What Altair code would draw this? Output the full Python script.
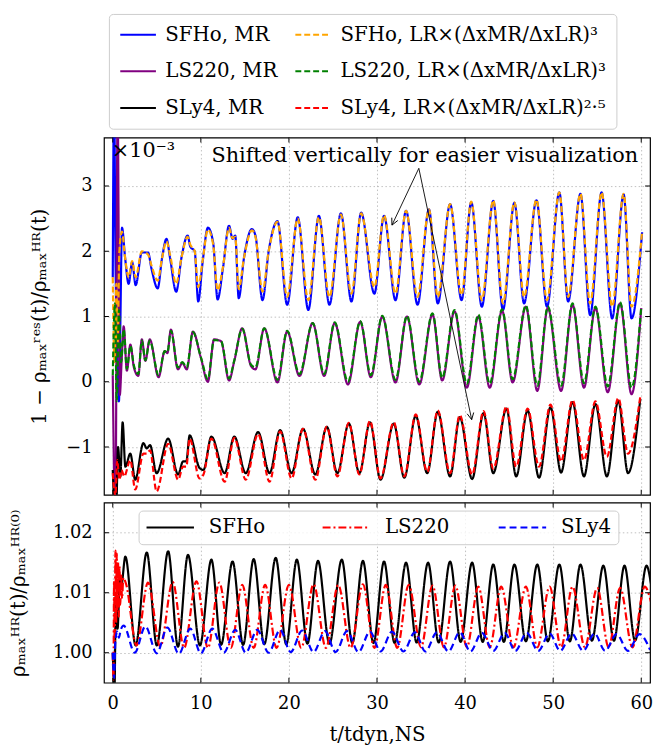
import altair as alt
import pandas as pd

FONT = "DejaVu Serif"

X_DOMAIN = [-1, 61]
X_TICKS = [0, 10, 20, 30, 40, 50, 60]
TOP_Y_DOMAIN = [-1.73, 3.74]
TOP_Y_TICKS = [-1, 0, 1, 2, 3]
BOT_Y_DOMAIN = [0.995, 1.025]
BOT_Y_TICKS = [1.00, 1.01, 1.02]

# legend order is column-major (3 rows x 2 columns)
TOP_NAMES = ["SFHo, MR", "LS220, MR", "SLy4, MR",
             "SFHo, LR×(ΔxMR/ΔxLR)³", "LS220, LR×(ΔxMR/ΔxLR)³", "SLy4, LR×(ΔxMR/ΔxLR)²·⁵"]
TOP_COLORS = ["#0000ff", "#800080", "#000000", "#ffa500", "#008000", "#ff0000"]
TOP_DASHES = [[1, 0], [1, 0], [1, 0], [6, 3], [6, 3], [6, 3]]

BOT_NAMES = ["SFHo", "LS220", "SLy4"]
BOT_COLORS = ["#000000", "#ff0000", "#0000ff"]
BOT_DASHES = [[1, 0], [8, 3, 2, 3], [7, 4]]

TOP_YTITLE = "1 − ρₘₐₓʳᵉˢ(t)/ρₘₐₓᴴᴿ(t)"
BOT_YTITLE = "ρₘₐₓᴴᴿ(t)/ρₘₐₓᴴᴿ⁽⁰⁾"
XTITLE = "t/tdyn,NS"
SCALE_NOTE = "×10⁻³"
SHIFT_NOTE = "Shifted vertically for easier visualization"

# arrows (data coordinates of the top panel): common start, two ends, head angles
ARROW_START = (34.75, 3.27)
ARROW_ENDS = [(31.7, 2.40), (40.75, -0.58)]
ARROW_ANGLES = [205, 169]

# ---------------- top panel: (t, 1e3 * (1 - rho_res/rho_HR) + shift) ----------------
SFHO_MR = [(0, 1.6), (0.15, 4.5), (0.3, 2.0), (0.5, 0.5), (0.7, -0.3), (0.85, 0.8),
           (1.05, 2.36), (1.4, 1.9), (1.8, 1.5), (2.2, 1.83), (2.6, 1.48), (3.3, 1.98),
           (4.0, 1.98), (4.4, 1.73), (5.1, 1.43), (5.6, 1.9), (6.1, 2.19), (6.5, 1.9),
           (7.2, 1.38), (7.8, 1.9), (8.5, 2.24), (8.8, 2.07), (9.3, 2.0), (9.7, 1.23),
           (10.2, 1.83), (10.8, 2.36), (11.4, 2.13), (11.9, 1.26), (12.5, 1.73), (13.2, 2.39),
           (13.6, 2.19), (13.9, 2.24), (14.3, 1.28), (14.9, 1.9), (15.8, 2.34), (16.2, 2.24),
           (17.0, 1.25), (17.7, 2.0), (18.7, 2.46), (19.8, 1.18), (21.0, 2.52), (22.2, 1.1),
           (23.4, 2.54), (24.6, 1.18), (25.9, 2.58), (27.1, 1.23), (28.2, 2.59), (29.7, 1.35),
           (30.8, 2.54), (32.1, 1.25), (33.3, 2.62), (34.6, 1.18), (35.9, 2.64), (36.9, 1.2),
           (38.3, 2.72), (39.6, 1.25), (40.7, 2.75), (41.9, 1.15), (43.2, 2.77), (44.3, 1.1),
           (45.6, 2.74), (46.7, 1.2), (48.1, 2.78), (49.3, 1.15), (50.7, 2.9), (51.7, 1.23),
           (53.1, 2.88), (54.2, 1.02), (55.5, 2.9), (56.7, 0.97), (58.0, 2.87), (58.9, 0.97),
           (60.1, 2.29)]

SFHO_LR = [(0, 1.6), (0.2, 0.3), (0.4, 1.5), (0.55, 0.6), (0.75, 2.0), (1.05, 2.3),
           (1.4, 1.9), (1.8, 1.6), (2.2, 1.85), (2.6, 1.6), (3.3, 2.0), (4.0, 1.95),
           (4.4, 1.78), (5.1, 1.55), (5.6, 1.9), (6.1, 2.15), (6.5, 1.95), (7.2, 1.5),
           (7.8, 1.9), (8.5, 2.22), (8.8, 2.1), (9.3, 2.0), (9.7, 1.45), (10.2, 1.85),
           (10.8, 2.33), (11.4, 2.1), (11.9, 1.4), (12.5, 1.75), (13.2, 2.36), (13.6, 2.2),
           (13.9, 2.22), (14.3, 1.42), (14.9, 1.9), (15.8, 2.32), (16.2, 2.22), (17.0, 1.38),
           (17.7, 2.0), (18.7, 2.45), (19.8, 1.3), (21.0, 2.5), (22.2, 1.25), (23.4, 2.52),
           (24.6, 1.3), (25.9, 2.56), (27.1, 1.35), (28.2, 2.58), (29.7, 1.45), (30.8, 2.55),
           (32.1, 1.35), (33.3, 2.62), (34.6, 1.3), (35.9, 2.64), (36.9, 1.3), (38.3, 2.72),
           (39.6, 1.33), (40.7, 2.76), (41.9, 1.25), (43.2, 2.78), (44.3, 1.2), (45.6, 2.75),
           (46.7, 1.3), (48.1, 2.79), (49.3, 1.25), (50.7, 2.9), (51.7, 1.3), (53.1, 2.88),
           (54.2, 1.2), (55.5, 2.9), (56.7, 1.15), (58.0, 2.88), (58.9, 1.15), (60.1, 2.3)]

LS220_MR = [(0, 0.1), (0.3, -2.2), (0.55, 4.2), (0.8, -0.2), (1.0, 0.3), (1.24, 0.85),
            (1.6, 0.17), (2.0, 0.57), (2.4, 0.22), (2.9, 0.09), (3.3, 0.65), (3.7, 0.32),
            (4.2, 0.65), (5.2, 0.07), (5.9, 0.47), (6.2, 0.44), (6.6, 0.8), (7.4, 0.19),
            (7.9, 0.29), (8.4, 0.19), (9.1, 0.77), (10.0, 0.37), (10.8, 0.0), (11.5, 0.65),
            (12.3, 0.62), (13.2, 0.02), (13.8, 0.32), (14.7, 0.82), (15.7, 0.24), (16.2, 0.19),
            (17.2, 0.82), (18.7, -0.01), (19.8, 0.77), (21.2, 0.09), (22.7, 0.9), (24.0, 0.09),
            (25.2, 0.9), (26.7, -0.04), (28.1, 0.92), (29.3, 0.07), (30.6, 1.0), (32.1, -0.01),
            (33.4, 1.0), (34.8, -0.04), (36.3, 1.03), (37.4, 0.02), (38.8, 1.08), (40.2, -0.09),
            (41.5, 1.0), (42.8, -0.09), (44.2, 1.09), (45.4, -0.01), (46.9, 1.15), (48.2, -0.14),
            (49.4, 1.13), (50.9, -0.14), (52.2, 1.18), (53.5, -0.09), (54.8, 1.13), (56.2, -0.16),
            (57.6, 1.2), (58.9, -0.19), (60.0, 1.13)]

LS220_LR = [(0, 0.1), (0.25, 1.2), (0.45, -0.3), (0.7, 1.1), (0.95, 0.3), (1.24, 0.8),
            (1.6, 0.2), (2.0, 0.55), (2.4, 0.25), (2.9, 0.12), (3.3, 0.63), (3.7, 0.33),
            (4.2, 0.63), (5.2, 0.1), (5.9, 0.47), (6.2, 0.45), (6.6, 0.78), (7.4, 0.22),
            (7.9, 0.3), (8.4, 0.22), (9.1, 0.76), (10.0, 0.38), (10.8, 0.04), (11.5, 0.64),
            (12.3, 0.62), (13.2, 0.05), (13.8, 0.33), (14.7, 0.81), (15.7, 0.26), (16.2, 0.22),
            (17.2, 0.82), (18.7, 0.03), (19.8, 0.78), (21.2, 0.12), (22.7, 0.9), (24.0, 0.12),
            (25.2, 0.91), (26.7, 0.0), (28.1, 0.93), (29.3, 0.1), (30.6, 1.01), (32.1, 0.03),
            (33.4, 1.01), (34.8, 0.0), (36.3, 1.05), (37.4, 0.06), (38.8, 1.1), (40.2, -0.03),
            (41.5, 1.03), (42.8, -0.03), (44.2, 1.11), (45.4, 0.04), (46.9, 1.17), (48.2, -0.06),
            (49.4, 1.15), (50.9, -0.06), (52.2, 1.2), (53.5, -0.02), (54.8, 1.15), (56.2, -0.07),
            (57.6, 1.22), (58.9, -0.09), (60.0, 1.15)]

SLY4_MR = [(0, -1.35), (0.35, -2.2), (0.6, -1.0), (0.86, -1.45), (1.12, -0.62), (1.43, -1.3),
           (1.99, -1.1), (2.55, -1.5), (3.48, -0.94), (3.86, -1.02), (4.23, -0.97), (4.98, -1.4),
           (6.29, -0.87), (7.42, -1.42), (7.98, -1.22), (8.35, -1.22), (8.73, -0.82), (9.85, -1.32),
           (10.3, -1.35), (11.2, -0.84), (12.7, -1.4), (13.8, -0.84), (15.1, -1.4), (16.5, -0.77),
           (17.8, -1.4), (19.0, -0.74), (20.3, -1.4), (21.6, -0.72), (23.0, -1.42), (24.3, -0.69),
           (25.5, -1.4), (26.8, -0.64), (28.0, -1.4), (29.2, -0.62), (30.4, -1.5), (31.9, -0.64),
           (33.1, -1.47), (34.4, -0.52), (35.7, -1.4), (36.9, -0.46), (38.3, -1.45), (39.4, -0.54),
           (40.8, -1.49), (42.1, -0.48), (43.2, -1.4), (44.7, -0.41), (45.8, -1.45), (47.1, -0.44),
           (48.4, -1.47), (49.7, -0.39), (50.9, -1.39), (52.2, -0.31), (53.5, -1.45), (54.8, -0.34),
           (56.1, -1.45), (57.4, -0.29), (58.5, -1.4), (59.9, -0.26)]

SLY4_LR = [(0, -1.4), (0.3, -1.75), (0.5, -1.2), (0.75, -1.5), (1.0, -1.35), (1.3, -1.45),
           (1.99, -1.2), (2.55, -1.65), (3.48, -1.1), (3.86, -1.1), (4.23, -1.05), (4.98, -1.68),
           (6.29, -0.95), (7.42, -1.5), (7.98, -1.3), (8.35, -1.3), (8.73, -0.87), (9.85, -1.48),
           (10.3, -1.42), (11.2, -0.87), (12.7, -1.53), (13.8, -0.86), (15.1, -1.5), (16.5, -0.8),
           (17.8, -1.53), (19.0, -0.76), (20.3, -1.48), (21.6, -0.72), (23.0, -1.5), (24.3, -0.69),
           (25.5, -1.45), (26.8, -0.63), (28.0, -1.42), (29.2, -0.6), (30.4, -1.48), (31.9, -0.62),
           (33.1, -1.45), (34.4, -0.5), (35.7, -1.38), (36.9, -0.44), (38.3, -1.4), (39.4, -0.51),
           (40.8, -1.42), (42.1, -0.45), (43.2, -1.33), (44.7, -0.38), (45.8, -1.3), (47.1, -0.41),
           (48.4, -1.3), (49.7, -0.35), (50.9, -1.22), (52.2, -0.28), (53.5, -1.2), (54.8, -0.3),
           (56.1, -1.15), (57.4, -0.25), (58.5, -1.1), (59.9, -0.22)]

# ---------------- bottom panel: (t, rho_max^HR(t)/rho_max^HR(0)) ----------------
SFHO_HR = [(0, 1.000), (0.2, 0.994), (0.35, 1.0095), (0.55, 1.004), (0.8, 1.0125), (0.95, 1.011),
           (1.43, 1.0160), (2.6, 1.0012), (3.86, 1.0167), (5.0, 1.0012), (6.29, 1.0169), (7.4, 1.0010),
           (8.54, 1.0163), (9.9, 1.0012), (11.2, 1.0155), (12.3, 1.0013), (13.6, 1.0152), (14.8, 1.0013),
           (16.0, 1.0156), (17.2, 1.0014), (18.5, 1.0158), (19.7, 1.0014), (20.9, 1.0155), (22.1, 1.0015),
           (23.3, 1.0153), (24.6, 1.0015), (26.0, 1.0155), (27.2, 1.0016), (28.4, 1.0153), (29.6, 1.0016),
           (30.8, 1.0152), (32.0, 1.0016), (33.3, 1.0150), (34.5, 1.0017), (35.8, 1.0150), (37.0, 1.0017),
           (38.3, 1.0152), (39.5, 1.0018), (40.8, 1.0150), (42.0, 1.0018), (43.2, 1.0147), (44.4, 1.0018),
           (45.6, 1.0147), (46.9, 1.0019), (48.2, 1.0147), (49.4, 1.0019), (50.7, 1.0147), (51.9, 1.0019),
           (53.1, 1.0147), (54.4, 1.0020), (55.7, 1.0145), (56.9, 1.0020), (58.1, 1.0145), (59.3, 1.0020),
           (60.6, 1.0145), (61.1, 1.0115)]

LS220_HR = [(0, 1.000), (0.08, 0.9955), (0.15, 1.012), (0.22, 1.002), (0.3, 1.017), (0.38, 1.005),
            (0.45, 1.0165), (0.52, 1.007), (0.6, 1.015), (0.68, 1.006), (0.76, 1.0145), (0.85, 1.008),
            (0.95, 1.013), (1.05, 1.009), (1.2, 1.0125), (1.5, 1.0115), (2.7, 1.0012), (4.0, 1.0117),
            (5.4, 1.0010), (6.8, 1.0118), (8.1, 1.0008), (9.5, 1.0119), (10.8, 1.0008), (12.1, 1.0117),
            (13.4, 1.0008), (14.7, 1.0113), (16.0, 1.0008), (17.3, 1.0113), (18.6, 1.0008), (20.0, 1.0113),
            (21.4, 1.0008), (22.8, 1.0114), (24.2, 1.0008), (25.6, 1.0113), (27.0, 1.0008), (28.4, 1.0114),
            (29.7, 1.0008), (31.0, 1.0113), (32.3, 1.0008), (33.6, 1.0113), (35.0, 1.0009), (36.3, 1.0112),
            (37.6, 1.0009), (38.9, 1.0112), (40.2, 1.0009), (41.5, 1.0110), (42.8, 1.0009), (44.1, 1.0110),
            (45.5, 1.0009), (46.9, 1.0110), (48.2, 1.0009), (49.6, 1.0110), (50.9, 1.0009), (52.2, 1.0110),
            (53.6, 1.0009), (55.0, 1.0108), (56.3, 1.0009), (57.6, 1.0108), (59.0, 1.0009), (60.4, 1.0110),
            (61.1, 1.0085)]

SLY4_HR = [(0, 1.000), (0.15, 0.9958), (0.3, 1.002), (0.5, 1.0035), (0.7, 1.0025), (0.9, 1.0038),
           (1.24, 1.0045), (2.5, 1.0000), (3.7, 1.0044), (5.0, 0.9999), (6.2, 1.0042), (7.5, 0.9998),
           (8.8, 1.0040), (10.0, 0.9999), (11.3, 1.0040), (12.6, 1.0000), (13.9, 1.0038), (15.1, 1.0000),
           (16.4, 1.0038), (17.7, 1.0000), (19.0, 1.0038), (20.2, 1.0001), (21.5, 1.0037), (22.8, 1.0001),
           (24.1, 1.0036), (25.3, 1.0001), (26.6, 1.0036), (27.9, 1.0001), (29.2, 1.0035), (30.4, 1.0002),
           (31.7, 1.0035), (33.0, 1.0002), (34.3, 1.0034), (35.5, 1.0002), (36.8, 1.0034), (38.1, 1.0002),
           (39.4, 1.0034), (40.6, 1.0002), (41.9, 1.0033), (43.2, 1.0003), (44.5, 1.0033), (45.7, 1.0003),
           (47.0, 1.0033), (48.3, 1.0003), (49.6, 1.0032), (50.8, 1.0003), (52.1, 1.0032), (53.4, 1.0003),
           (54.7, 1.0032), (55.9, 1.0003), (57.2, 1.0031), (58.5, 1.0003), (59.8, 1.0031), (61.0, 1.0005)]

TOP_W, TOP_H, BOT_H = 552, 361, 182


def to_df(pairs, name):
    return pd.DataFrame({"t": [p[0] for p in pairs], "y": [p[1] for p in pairs], "series": name})


top_mr = pd.concat([to_df(SFHO_MR, "SFHo, MR"), to_df(LS220_MR, "LS220, MR"),
                    to_df(SLY4_MR, "SLy4, MR")], ignore_index=True)
top_lr = pd.concat([to_df(SFHO_LR, TOP_NAMES[3]), to_df(LS220_LR, TOP_NAMES[4]),
                    to_df(SLY4_LR, TOP_NAMES[5])], ignore_index=True)
bot = pd.concat([to_df(SFHO_HR, BOT_NAMES[0]), to_df(LS220_HR, BOT_NAMES[1]),
                 to_df(SLY4_HR, BOT_NAMES[2])], ignore_index=True)

AX = dict(labelFont=FONT, labelFontSize=18, labelColor="black", titleFont=FONT,
          titleFontSize=20, titleFontWeight="normal", titleColor="black", domain=False,
          ticks=False, grid=True, gridColor="#b0b0b0", gridDash=[1.5, 2.5], gridWidth=0.8,
          labelPadding=12)

x_top = alt.X("t:Q", scale=alt.Scale(domain=X_DOMAIN, nice=False, zero=False),
              axis=alt.Axis(values=X_TICKS, labels=False, title=None, **AX))
x_bot = alt.X("t:Q", scale=alt.Scale(domain=X_DOMAIN, nice=False, zero=False),
              axis=alt.Axis(values=X_TICKS, format="d", title=XTITLE, titlePadding=12, **AX))
y_top = alt.Y("y:Q", scale=alt.Scale(domain=TOP_Y_DOMAIN, nice=False, zero=False),
              axis=alt.Axis(values=TOP_Y_TICKS, format="d", title=TOP_YTITLE, titlePadding=17, **AX))
y_bot = alt.Y("y:Q", scale=alt.Scale(domain=BOT_Y_DOMAIN, nice=False, zero=False),
              axis=alt.Axis(values=BOT_Y_TICKS, format=".2f", title=BOT_YTITLE, titlePadding=24, **AX))

top_legend = alt.Legend(title=None, orient="none", legendX=5, legendY=-125, columns=2,
                        symbolType="stroke", symbolSize=1300, symbolStrokeWidth=2,
                        clipHeight=22, labelFont=FONT, labelFontSize=20, labelColor="black",
                        labelLimit=500, labelOffset=8, rowPadding=15, columnPadding=16,
                        padding=10, strokeColor="#cccccc", fillColor="white", cornerRadius=4)
bot_legend = alt.Legend(title=None, orient="none", legendX=35, legendY=8, columns=3,
                        gridAlign="all", symbolType="stroke", symbolSize=2300,
                        symbolStrokeWidth=2, clipHeight=20, labelFont=FONT, labelFontSize=20,
                        labelColor="black", labelOffset=14, columnPadding=48, padding=7,
                        strokeColor="#cccccc", fillColor="rgba(255,255,255,0.8)",
                        cornerRadius=4)


def inward_ticks(x_enc, y_enc, x_vals, y_vals, height):
    """Short tick marks drawn on all four frame edges (clipped to the plot area)."""
    xt = pd.DataFrame({"t": x_vals})
    yt = pd.DataFrame({"y": y_vals})
    kw = dict(clip=True, color="black", thickness=1, size=10, opacity=1)
    return [
        alt.Chart(xt).mark_tick(**kw).encode(x=x_enc, y=alt.value(0)),
        alt.Chart(xt).mark_tick(**kw).encode(x=x_enc, y=alt.value(height)),
        alt.Chart(yt).mark_tick(**kw).encode(y=y_enc, x=alt.value(0)),
        alt.Chart(yt).mark_tick(**kw).encode(y=y_enc, x=alt.value(TOP_W)),
    ]


top_color = alt.Color("series:N", scale=alt.Scale(domain=TOP_NAMES, range=TOP_COLORS),
                      legend=top_legend)
top_dash = alt.StrokeDash("series:N", scale=alt.Scale(domain=TOP_NAMES, range=TOP_DASHES),
                          legend=top_legend)

mr_lines = alt.Chart(top_mr).mark_line(clip=True, strokeWidth=2.2, interpolate="monotone").encode(
    x=x_top, y=y_top, color=top_color, strokeDash=top_dash, detail="series:N")
lr_lines = alt.Chart(top_lr).mark_line(clip=True, strokeWidth=2.2, interpolate="monotone").encode(
    x=x_top, y=y_top, color=top_color, strokeDash=top_dash, detail="series:N")

note_scale = alt.Chart(pd.DataFrame({"label": [SCALE_NOTE]})).mark_text(
    font=FONT, fontSize=21, align="left", baseline="top", color="black").encode(
    x=alt.value(8), y=alt.value(3), text="label:N")
note_shift = alt.Chart(pd.DataFrame({"label": [SHIFT_NOTE]})).mark_text(
    font=FONT, fontSize=21, align="right", baseline="top", color="black").encode(
    x=alt.value(540), y=alt.value(8), text="label:N")

arrow_df = pd.DataFrame({"t": [ARROW_START[0]] * len(ARROW_ENDS),
                         "y": [ARROW_START[1]] * len(ARROW_ENDS),
                         "t2": [e[0] for e in ARROW_ENDS],
                         "y2": [e[1] for e in ARROW_ENDS]})
arrow_lines = alt.Chart(arrow_df).mark_rule(color="black", strokeWidth=0.9).encode(
    x=x_top, y=y_top, x2="t2:Q", y2="y2:Q")
head_df = pd.DataFrame({"t": [e[0] for e in ARROW_ENDS], "y": [e[1] for e in ARROW_ENDS],
                        "angle": ARROW_ANGLES})
arrow_heads = alt.Chart(head_df).mark_point(
    shape="M-0.5,1L0,0L0.5,1", filled=False, stroke="black", strokeWidth=0.9, size=180,
    opacity=1).encode(x=x_top, y=y_top, angle=alt.Angle("angle:Q", scale=None))

top = alt.layer(mr_lines, lr_lines, note_scale, note_shift, arrow_lines, arrow_heads,
                *inward_ticks(x_top, y_top, X_TICKS, TOP_Y_TICKS, TOP_H)).properties(
    width=TOP_W, height=TOP_H)

bot_color = alt.Color("series:N", scale=alt.Scale(domain=BOT_NAMES, range=BOT_COLORS),
                      legend=bot_legend)
bot_dash = alt.StrokeDash("series:N", scale=alt.Scale(domain=BOT_NAMES, range=BOT_DASHES),
                          legend=bot_legend)
bot_lines = alt.Chart(bot).mark_line(clip=True, strokeWidth=2.2, interpolate="monotone").encode(
    x=x_bot, y=y_bot, color=bot_color, strokeDash=bot_dash, detail="series:N")
bottom = alt.layer(bot_lines, *inward_ticks(x_bot, y_bot, X_TICKS, BOT_Y_TICKS, BOT_H)).properties(
    width=TOP_W, height=BOT_H)

chart = alt.vconcat(top, bottom, spacing=6,
                    padding={"left": 0, "top": 0, "right": 0, "bottom": 0}).resolve_scale(
    color="independent", strokeDash="independent").resolve_legend(
    color="independent", strokeDash="independent").configure(font=FONT).configure_view(
    stroke="black", strokeWidth=1.2)

chart.save("out.html", embed_options={"renderer": "svg", "actions": False})
